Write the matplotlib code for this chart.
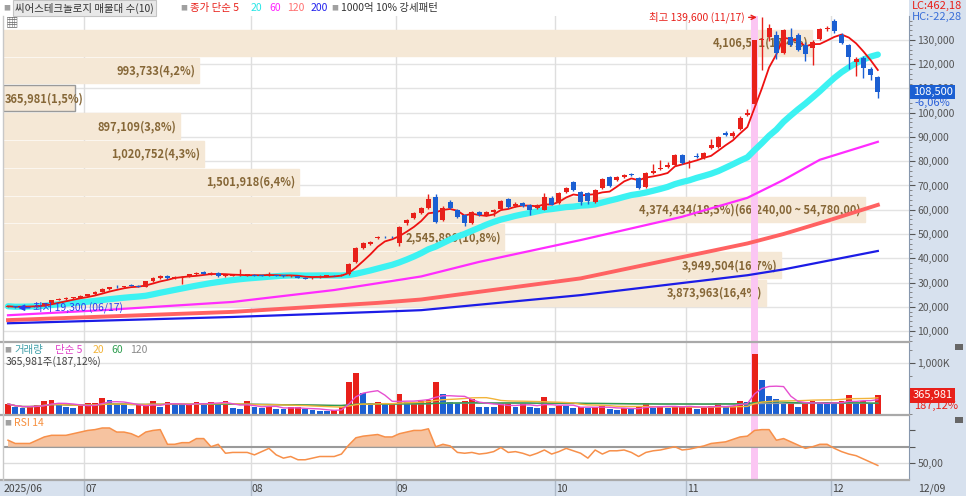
import numpy as np
import pandas as pd
import matplotlib
matplotlib.use("Agg")
import matplotlib.pyplot as plt
from matplotlib.lines import Line2D
from matplotlib.patches import Rectangle
from matplotlib.ticker import FuncFormatter, MultipleLocator

plt.rcParams['font.family'] = ['Noto Sans CJK KR', 'DejaVu Sans']
plt.rcParams['axes.unicode_minus'] = False

# 월별 거래일 수 (2025/06/16 ~ 2025/12/09)
month_labels = ['2025/06', '07', '08', '09', '10', '11', '12']
month_days = [11, 23, 20, 22, 18, 20, 7]
last_date = '12/09'

# 일봉 시가/고가/저가/종가
opens = [19900, 20200, 19800, 20000, 20200, 20500, 21400, 22900, 23200, 23500, 23700,
         24500, 25200, 26200, 27300, 28200, 28000, 28900, 28500, 28300, 30500, 31800, 32800,
         31800, 32000, 32300, 33400, 34400, 33500, 34000, 32600, 32800, 32900, 33000,
         33300, 33000, 32800, 33000, 32800, 32500, 32500, 32000, 31700, 32200, 32800, 33000,
         32700, 33500, 38400, 44200, 46000, 48500, 48900, 48800,
         46300, 54500, 56600, 58700, 60700, 65300, 55800, 63200, 60000, 57800, 54500, 59000,
         57900, 59000, 60300, 64500, 61500, 62800, 61900, 60700, 60000, 64900,
         62800, 67300, 71500, 67300, 66800, 63200, 69000, 73500, 72300, 73500, 74600, 73100,
         69400, 75300, 76800, 77800, 78500, 82600,
         79500, 82000, 81400, 85500, 85900, 91700, 90500, 93400, 99100, 103500, 129800, 131400,
         132200, 124800, 131400, 132200, 128000, 126800, 130200, 134300,
         137600, 132200, 128000, 121100, 122700, 118200, 114900]
highs = [20400, 20300, 20300, 20500, 20800, 21700, 22800, 23800, 23900, 24100, 24700,
         25400, 26400, 27600, 28300, 28800, 28700, 29200, 29000, 30700, 32200, 33000, 33200,
         32500, 32600, 33700, 34200, 34600, 34200, 34200, 33300, 33300, 35500, 33500,
         33500, 33200, 34200, 33300, 33000, 33200, 32700, 32300, 32400, 33000, 33200, 33300,
         33500, 38000, 44500, 46800, 47300, 49300, 49300, 49300,
         53300, 56200, 59000, 61200, 66500, 66500, 61500, 64000, 60500, 58300, 59500, 59600,
         59500, 60500, 64000, 65000, 63000, 63300, 62300, 62500, 67000, 65500,
         67300, 69500, 72000, 67800, 67300, 68600, 73000, 74000, 73700, 74700, 75300, 73500,
         75500, 79000, 80500, 79500, 83000, 83000,
         80300, 83500, 84000, 89000, 90500, 92500, 92300, 98500, 101500, 130000, 139600, 136500,
         133500, 134500, 135000, 133000, 129000, 130000, 134800, 135600,
         138500, 133000, 128500, 122800, 123500, 119000, 115200]
lows = [19700, 19300, 19600, 19900, 20100, 20400, 21300, 22600, 22900, 23200, 23500,
        24300, 25000, 26000, 27100, 27600, 27800, 28400, 28000, 28200, 30300, 31500, 31600,
        31400, 29300, 32100, 33200, 33400, 33300, 32400, 32400, 32600, 32700, 32800,
        32600, 32500, 32600, 32600, 32400, 32300, 31700, 31400, 31500, 32000, 32600, 32700,
        32500, 33300, 38000, 43800, 45500, 47800, 48200, 48300,
        45000, 53800, 56200, 58300, 60400, 54500, 55300, 60300, 56700, 53500, 54000, 57300,
        57500, 57500, 60000, 60800, 61000, 61200, 58000, 60300, 59700, 61800,
        62500, 67000, 67900, 62000, 62500, 62800, 68500, 69200, 71800, 73000, 73900, 68500,
        69000, 74800, 76300, 77300, 78200, 79000,
        77000, 81200, 81000, 85000, 85500, 90200, 89500, 93000, 98500, 103000, 117800, 129500,
        122000, 124000, 127500, 125500, 121500, 119800, 129800, 133500,
        133000, 128500, 118000, 115000, 114500, 113500, 106000]
closes = [20200, 19800, 20100, 20300, 20600, 21500, 22600, 23100, 23500, 23800, 24500,
          25200, 26200, 27400, 28000, 28000, 28500, 28600, 28300, 30500, 32000, 32800, 31800,
          32200, 32300, 33500, 34000, 33600, 34000, 32600, 33000, 33000, 33100, 33300,
          32800, 32700, 33600, 32800, 32600, 33000, 31900, 31600, 32200, 32800, 33000, 32900,
          33300, 37500, 44200, 46300, 46800, 48800, 48600, 48600,
          52900, 55800, 58700, 60700, 64500, 55000, 60700, 60700, 57000, 54500, 59000, 57800,
          59000, 60000, 63600, 61100, 62400, 61500, 59900, 62000, 65300, 62000,
          66900, 69000, 68200, 63200, 63500, 68200, 72700, 69800, 73300, 74400, 74300, 69000,
          75200, 75800, 77400, 78300, 82600, 79300,
          79800, 81700, 83500, 86800, 90100, 90800, 91700, 97900, 100000, 130000, 130300, 135100,
          124800, 133900, 128000, 126000, 124000, 129300, 134300, 135100,
          133500, 128900, 123100, 122300, 118600, 115500, 108500]

# 거래량 (주)
volumes = [196000, 130000, 110000, 145000, 170000, 260000, 280000, 196000, 130000, 110000, 176000,
           210000, 212000, 313000, 275000, 196000, 176000, 91000, 176000, 178000, 260000, 145000,
           235000, 176000, 170000, 196000, 235000, 210000, 235000, 196000, 248000, 110000, 91000,
           248000,
           130000, 125000, 145000, 104000, 91000, 130000, 135000, 91000, 78000, 59000, 52000,
           78000, 130000, 634000, 797000, 405000, 210000, 235000, 196000, 200000,
           392000, 235000, 240000, 260000, 280000, 620000, 392000, 235000, 222000, 260000, 300000,
           145000, 140000, 135000, 209000, 215000, 131000, 209000, 131000, 125000, 330000, 111000,
           157000, 150000, 111000, 131000, 125000, 144000, 165000, 92000, 70000, 111000, 100000,
           150000, 209000, 111000, 145000, 125000, 157000, 160000,
           165000, 92000, 118000, 158000, 224000, 132000, 158000, 263000, 237000, 1184000, 658000,
           355000, 290000, 197000, 243000, 145000, 243000, 250000, 210000, 197000,
           190000, 263000, 375000, 210000, 263000, 195588, 365981]

# RSI 14
rsi14 = [78, 74, 74, 74, 78, 82, 84, 84, 84, 86, 88,
         90, 91, 93, 93, 88, 88, 86, 82, 88, 90, 91, 73, 73, 75, 75, 80, 80, 70, 73, 62, 63, 63, 63,
         60, 64, 68, 60, 56, 58, 54, 54, 56, 58, 58, 58, 61, 72, 81, 83, 84, 85, 82, 82,
         86, 88, 90, 90, 92, 70, 73, 71, 63, 62, 63, 61, 62, 64, 69, 63, 64, 62, 59, 62, 66, 61,
         64, 68, 65, 62, 56, 66, 61, 65, 65, 66, 63, 58, 63, 65, 66, 68, 70, 66,
         67, 69, 71, 74, 75, 76, 79, 82, 83, 90, 91, 91, 78, 80, 76, 72, 68, 70, 73, 73,
         68, 64, 61, 59, 55, 51, 47]

# 장기 이동평균
ma60_idx = [0, 13, 31, 45, 51, 57, 65, 79, 93, 102, 107, 112, 120]
ma60_val = [16500, 18600, 22000, 26900, 29700, 32500, 38500, 47500, 57100, 64900, 72300, 80600, 88000]
ma120_idx = [0, 31, 51, 57, 79, 102, 107, 113, 120]
ma120_val = [14500, 17900, 21600, 23000, 31700, 46100, 50000, 55400, 62000]
ma200_idx = [0, 31, 51, 57, 79, 102, 107, 120]
ma200_val = [13200, 15800, 17900, 18600, 24800, 33000, 35400, 43000]

# 매물대 (가격 구간 경계, 거래량, 비율)
profile_edges = [20400, 31860, 43320, 54780, 66240, 77700, 89160, 100620, 112080, 123540, 135000]
profile_vol = [3873963, 3949504, 2545890, 4374434, 1501918, 1020752, 897109, 365981, 993733, 4106551]
profile_pct = [16.4, 16.7, 10.8, 18.5, 6.4, 4.3, 3.8, 1.5, 4.2, 17.4]

hi_day, lo_day = '11/17', '06/17'
chg_pct = -6.06
vol_pct = 187.12
lc, hc = 462.18, -22.28
strong_day = 103  # 1000억 10% 강세패턴

# 스타일
W, H = 966, 496
RED = '#e8201a'
BLUE = '#1b5fd2'
SIDE = '#d7e1ee'
X0, X1 = -0.69, 124.3
Y0, Y1 = 5890, 139860


def box(x0, y0, x1, y1):
    return [x0 / W, 1 - y1 / H, (x1 - x0) / W, (y1 - y0) / H]


def ftext(x, y, s, **kw):
    kw.setdefault('va', 'center')
    kw.setdefault('fontsize', 7.5)
    return fig.text(x / W, 1 - y / H, s, **kw)


def fline(x0, y0, x1, y1, **kw):
    fig.add_artist(Line2D([x0 / W, x1 / W], [1 - y0 / H, 1 - y1 / H], **kw))


def clean(ax):
    for s in ['top', 'bottom', 'left']:
        ax.spines[s].set_visible(False)
    ax.spines['right'].set_color('#8797ad')
    ax.set_xticks([])
    ax.yaxis.tick_right()
    ax.tick_params(axis='y', which='major', colors='#555555', labelsize=7.5,
                   length=4, direction='out', pad=2)
    ax.tick_params(axis='y', which='minor', colors='#777777', length=2, direction='out')


n = len(closes)
idx = np.arange(n)
o, h, l, c = map(np.array, (opens, highs, lows, closes))
vol = np.array(volumes)
rsi = np.array(rsi14, dtype=float)
month_pos = np.cumsum([0] + month_days[:-1])
hi_i, lo_i = int(np.argmax(h)), int(np.argmin(l))

fig = plt.figure(figsize=(W / 100, H / 100), dpi=100)
fig.patch.set_facecolor('white')

# 오른쪽 가격축 배경
ax_side = fig.add_axes(box(909, 0, 966, 496))
ax_side.set_facecolor(SIDE)
ax_side.set_xticks([])
ax_side.set_yticks([])
for s in ax_side.spines.values():
    s.set_visible(False)

# 하단 날짜 바
ax_date = fig.add_axes(box(0, 480, 909, 496), facecolor=SIDE)
ax_date.set_xlim(X0 - 3 * (X1 - X0) / 906, X1)
ax_date.set_ylim(0, 1)
ax_date.set_xticks([])
ax_date.set_yticks([])
for s in ax_date.spines.values():
    s.set_visible(False)
for k, (p, lab) in enumerate(zip(month_pos, month_labels)):
    if k > 0:
        ax_date.axvline(p - 0.5, color='#aeb9c8', lw=1)
        ax_date.text(p - 0.35, 0.45, lab, fontsize=7.5, color='#444444', va='center')
    else:
        ax_date.text(X0 + 0.1, 0.45, lab, fontsize=7.5, color='#444444', va='center')
ftext(918, 489, last_date, color='#444444')

# ---- 가격 패널: 매물대 (배경) ----
ax_bg = fig.add_axes(box(3, 16, 909, 341))
ax_bg.set_xlim(X0, X1)
ax_bg.set_ylim(Y0, Y1)
ax_bg.axis('off')
for yv in range(10000, 140000, 10000):
    ax_bg.axhline(yv, color='#e3e3e3', lw=1, zorder=0)
for p in month_pos[1:]:
    ax_bg.axvline(p - 0.5, color='#dedede', lw=1, zorder=0)

band_lo = np.array(profile_edges[:-1])
band_h = np.diff(profile_edges)
vmax = max(profile_vol)
frac = np.array(profile_vol) / vmax * 0.951
cur = int(np.searchsorted(profile_edges, closes[-1]) - 1)
edges = ['#9a9a9a' if k == cur else '#f5e8d6' for k in range(len(profile_vol))]
ax_bg.barh(band_lo, frac, height=band_h * 0.93, left=0, align='edge', color='#f5e8d6',
           edgecolor=edges, linewidth=1, transform=ax_bg.get_yaxis_transform(), zorder=1)
top_k = int(np.argmax(profile_vol))
for k in range(len(profile_vol)):
    lab = f'{profile_vol[k]:,}({profile_pct[k]:.1f}%)'.replace('.', ',')
    if k == top_k:
        lab += f'({profile_edges[k + 1]:,},00 ~ {profile_edges[k]:,},00)'
    yc = band_lo[k] + band_h[k] * 0.45
    if frac[k] > 0.12:
        ax_bg.text(frac[k] - 0.004, yc, lab, ha='right', va='center', fontsize=8,
                   fontweight='bold', color='#866737', transform=ax_bg.get_yaxis_transform(), zorder=2)
    else:
        ax_bg.text(0.002, yc, lab, ha='left', va='center', fontsize=8,
                   fontweight='bold', color='#866737', transform=ax_bg.get_yaxis_transform(), zorder=2)

# ---- 가격 패널: 캔들, 이동평균 ----
ax_p = fig.add_axes(box(3, 16, 909, 341), facecolor='none')
ax_p.set_xlim(X0, X1)
ax_p.set_ylim(Y0, Y1)
clean(ax_p)
ax_p.set_yticks(np.arange(10000, 140000, 10000))
ax_p.yaxis.set_minor_locator(MultipleLocator(2000))
ax_p.yaxis.set_major_formatter(FuncFormatter(lambda v, p: f'{v:,.0f}'))
ax_p.axvspan(strong_day - 0.5, strong_day + 0.5, color='#fbc6f3', lw=0, zorder=0.5)

ma5 = pd.Series(c).rolling(5, min_periods=1).mean()
ma20 = pd.Series(c).rolling(20, min_periods=1).mean()
ax_p.plot(ma200_idx, ma200_val, color='#1c1ce6', lw=1.6, zorder=2)
ax_p.plot(ma120_idx, ma120_val, color='#ff6262', lw=2.8, zorder=2)
ax_p.plot(ma60_idx, ma60_val, color='#ff2cff', lw=1.6, zorder=2)
ax_p.plot(idx, ma20, color='#3cf2f2', lw=4.5, zorder=2.5, solid_capstyle='round')
ax_p.plot(idx, ma5, color='#ee1111', lw=1.3, zorder=3)

col = np.where(c >= o, RED, BLUE)
ax_p.vlines(idx, l, h, color=col, lw=1, zorder=4)
ax_p.bar(idx, np.maximum(np.abs(c - o), 350), bottom=np.minimum(o, c), width=0.68,
         color=col, lw=0, zorder=5)

ax_p.annotate(f'최고 {h[hi_i]:,} ({hi_day})', xy=(hi_i - 0.7, h[hi_i] - 300),
              xytext=(hi_i - 2.4, h[hi_i] - 300), ha='right', va='center', fontsize=7.5,
              color=RED, zorder=7,
              arrowprops=dict(arrowstyle='->', color=RED, lw=1, shrinkA=1, shrinkB=0))
ax_p.annotate(f'최저 {l[lo_i]:,} ({lo_day})', xy=(lo_i + 0.4, l[lo_i] + 300),
              xytext=(lo_i + 2.4, l[lo_i] + 300), ha='left', va='center', fontsize=7.5,
              color='#2a3cf0', zorder=7,
              arrowprops=dict(arrowstyle='-|>', color='#2a3cf0', lw=1, shrinkA=0, shrinkB=0,
                              mutation_scale=9))

ax_p.text(1.004, c[-1], f'{c[-1]:,}', transform=ax_p.get_yaxis_transform(), color='white',
          fontsize=8, va='center', ha='left', zorder=10, clip_on=False,
          bbox=dict(boxstyle='square,pad=0.2', fc=BLUE, ec='none'))
ftext(914, 103, f'{chg_pct:.2f}%'.replace('.', ','), color='#2a5fd8', fontsize=8)

# ---- 거래량 패널 ----
ax_v = fig.add_axes(box(3, 343, 909, 414), facecolor='white')
ax_v.set_xlim(X0, X1)
ax_v.set_ylim(0, 1390000)
clean(ax_v)
ax_v.set_yticks([1000000])
ax_v.set_yticklabels(['1,000K'])
ax_v.yaxis.set_minor_locator(MultipleLocator(250000))
ax_v.axhline(1000000, color='#e3e3e3', lw=1, zorder=0)
for p in month_pos[1:]:
    ax_v.axvline(p - 0.5, color='#dedede', lw=1, zorder=0)
ax_v.axvspan(strong_day - 0.5, strong_day + 0.5, color='#fbc6f3', lw=0, zorder=0.5)
prev = np.concatenate([[0], vol[:-1]])
vcol = np.where(vol >= prev, RED, BLUE)
ax_v.bar(idx, vol, width=0.8, color=vcol, lw=0, zorder=2)
vs = pd.Series(vol)
ax_v.plot(idx, vs.rolling(120, min_periods=1).mean(), color='#9a9a9a', lw=1, zorder=3)
ax_v.plot(idx, vs.rolling(60, min_periods=1).mean(), color='#2f9e50', lw=1, zorder=3)
ax_v.plot(idx, vs.rolling(20, min_periods=1).mean(), color='#f2b43a', lw=1, zorder=3)
ax_v.plot(idx, vs.rolling(5, min_periods=1).mean(), color='#e64fd0', lw=1, zorder=3)
ax_v.text(1.004, vol[-1], f'{vol[-1]:,}', transform=ax_v.get_yaxis_transform(), color='white',
          fontsize=8, va='center', ha='left', zorder=10, clip_on=False,
          bbox=dict(boxstyle='square,pad=0.2', fc=RED, ec='none'))
ftext(914, 406, f'{vol_pct:.2f}%'.replace('.', ','), color=RED, fontsize=8)

# ---- RSI 패널 ----
ax_r = fig.add_axes(box(3, 416, 909, 479), facecolor='white')
ax_r.set_xlim(X0, X1)
ax_r.set_ylim(30.4, 107.7)
clean(ax_r)
ax_r.set_yticks([50, 70, 90])
ax_r.set_yticklabels(['50,00', '', ''])
ax_r.axhline(50, color='#dcdcdc', lw=1, zorder=0)
ax_r.axhline(70, color='#9a9a9a', lw=1.5, zorder=1)
for p in month_pos[1:]:
    ax_r.axvline(p - 0.5, color='#dedede', lw=1, zorder=0)
ax_r.axvspan(strong_day - 0.5, strong_day + 0.5, color='#fbc6f3', lw=0, zorder=0.5)
ax_r.fill_between(idx, rsi, 70, where=rsi >= 70, interpolate=True, color='#f6c3a0', lw=0, zorder=2)
ax_r.plot(idx, rsi, color='#f7904a', lw=1.1, zorder=3)

# 패널 구분선
for yy in (342, 415, 479.5):
    fline(0, yy, 909, yy, color='#a9a9a9', lw=1.6)
fline(2.5, 16, 2.5, 480, color='#c8c8c8', lw=1)

# 범례
ftext(3, 8, '■', color='#a0a0a0', fontsize=5)
ftext(15, 8, '씨어스테크놀로지 매물대 수(10)', color='#333333',
      bbox=dict(boxstyle='square,pad=0.22', fc='#e8e8e8', ec='#c4c4c4', lw=0.8))
ftext(180, 8, '■', color='#a0a0a0', fontsize=5)
ftext(190, 8, '종가 단순 5', color=RED)
ftext(251, 8, '20', color='#27e6e6')
ftext(269, 8, '60', color='#ff22ff')
ftext(287, 8, '120', color='#ff7070')
ftext(311, 8, '200', color='#2222ee')
ftext(331, 8, '■', color='#a0a0a0', fontsize=5)
ftext(341, 8, '1000억 10% 강세패턴', color='#333333')
ftext(6, 23, '▦', color='#666666', fontsize=9)

ftext(4, 350, '■', color='#a0a0a0', fontsize=5)
ftext(14, 350, '거래량', color='#3f9ea8')
ftext(55, 350, '단순 5', color='#e040c8')
ftext(93, 350, '20', color='#f2b43a')
ftext(111, 350, '60', color='#2f9e50')
ftext(130, 350, '120', color='#8a8a8a')
ftext(6, 362, f'{vol[-1]:,}주({vol_pct:.2f}%)'.replace('.', ','), color='#444444')

ftext(4, 423, '■', color='#a0a0a0', fontsize=5)
ftext(14, 423, 'RSI 14', color='#f7903f')

ftext(912, 6, f'LC:{lc:.2f}'.replace('.', ','), color=RED, fontsize=8)
ftext(912, 17, f'HC:{hc:.2f}'.replace('.', ','), color='#3a6fd8', fontsize=8)
for yy in (344, 417):
    fig.add_artist(Rectangle((955 / W, 1 - (yy + 6) / H), 8 / W, 6 / H,
                             transform=fig.transFigure, fc='#666666', ec='none'))

fig.savefig('out.png', dpi=100, facecolor='white')
